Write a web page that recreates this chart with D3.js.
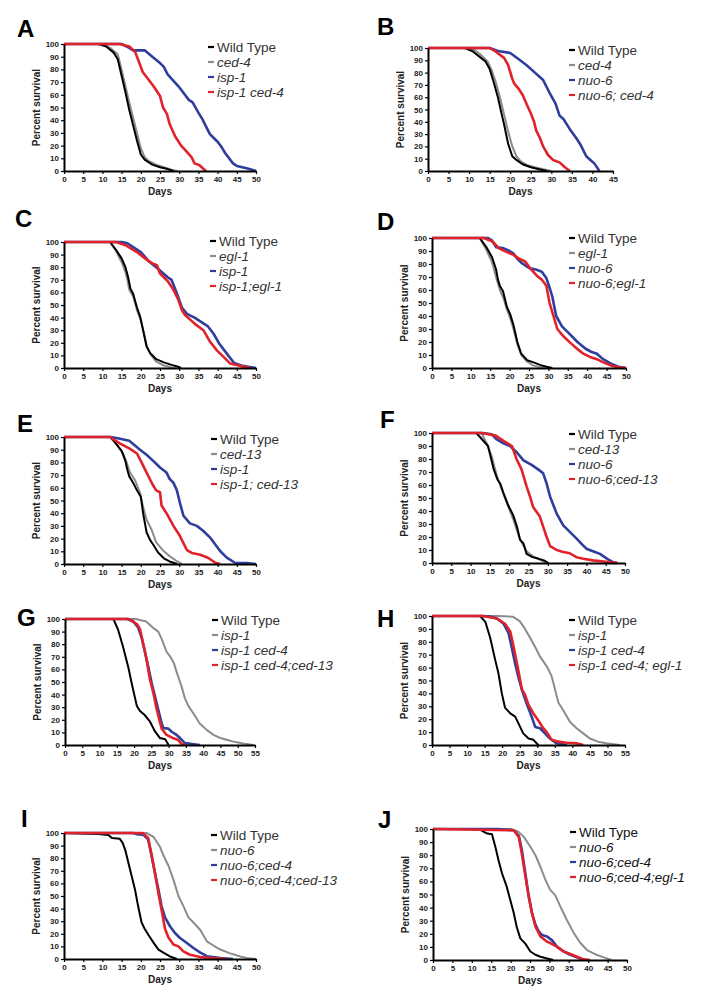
<!DOCTYPE html>
<html><head><meta charset="utf-8">
<script src="https://cdn.jsdelivr.net/npm/d3@7"></script>
<style>
html,body{margin:0;padding:0;background:#fff;}
svg{display:block;font-family:"Liberation Sans",Arial,sans-serif;}
</style></head>
<body>
<svg id="chart" width="701" height="1004"></svg>
<script>
// ---------------- DATA ----------------
const percentTicks = [0,10,20,30,40,50,60,70,80,90,100];
const dayTicks45 = [0,5,10,15,20,25,30,35,40,45];
const dayTicks50 = [0,5,10,15,20,25,30,35,40,45,50];
const dayTicks55 = [0,5,10,15,20,25,30,35,40,45,50,55];

const A_labels = ["Wild Type","ced-4","isp-1","isp-1 ced-4"];
const A_wt = [[0,100],[9,100],[11,98],[13,93],[14,88],[15,75],[16,62],[17,48],[18,36],[19,24],[20,13],[21,9],[22,7],[23,5],[25,3],[27,1.5],[28.5,0]];
const A_g  = [[0,100],[10,100],[12,97],[14,92],[15,80],[16,67],[17,54],[18,42],[19,30],[20,18],[21,11],[22,8],[24,5],[26,3],[28,1],[29.5,0]];
const A_b  = [[0,100],[15,100],[17,97],[18,95],[21,95],[23,90],[25,85],[26,82],[27,76],[28.5,71],[30,66],[31,62],[32.5,56],[33.5,54],[35,46],[36,41],[37,35],[38,29],[39,26],[40,23],[41,19],[42,14],[43,10],[44,6],[45,4],[47,2.5],[49,1],[50,0]];
const A_r  = [[0,100],[14.5,100],[17,98],[18.5,94],[19.5,86],[20.5,78],[22,72],[23.5,66],[25,59],[25.8,50],[26.8,45],[27.5,37],[29,27],[30.5,20],[32,15],[33.2,11],[34,6],[35.3,4.5],[36.2,2],[37,0]];

const B_labels = ["Wild Type","ced-4","nuo-6","nuo-6; ced-4"];
const B_wt = [[0,100],[9,100],[11,97],[12.5,93],[14,89],[15,83],[16,72],[17,60],[18,45],[18.5,38],[19.5,22],[20.5,12],[21.5,9],[23,5.5],[25,3],[27,1.5],[29,0]];
const B_g  = [[0,100],[9.5,100],[11.5,98],[13,94],[14.5,89],[15.5,82],[16.5,72],[17.5,60],[18.5,46],[19.5,32],[20.5,20],[21.5,12],[22.5,8],[24,5],[26,3],[28,1.5],[30,0]];
const B_b  = [[0,100],[15,100],[17,97.5],[20,96],[22,91],[24,86],[26,80],[28,74],[29.5,64],[31,55],[32,45],[33,42],[34.5,34],[36,27],[37,22],[38.5,12],[39.5,9],[40.5,6],[41.7,0]];
const B_r  = [[0,100],[15,100],[16.5,97],[18.5,92],[19.5,86],[20.5,75],[21,71],[22,67],[23,62],[24.3,52],[25,47],[25.8,40],[26.3,33],[27.2,27],[28,20],[29.2,13],[30.4,9],[32,7],[33.3,3],[34.5,0]];

const C_labels = ["Wild Type","egl-1","isp-1","isp-1;egl-1"];
const C_wt = [[0,100],[12,100],[13.5,94],[15,87],[16,80],[16.7,72],[17.3,63],[18,59],[19,48],[19.8,41],[20.6,30],[21.5,17],[22.4,12],[24,7],[26,4.5],[28,2.5],[29.5,1.2],[30.5,0]];
const C_g  = [[0,100],[12,100],[13.5,93],[15,84],[16,76],[16.5,70],[17,62],[18,57],[19,46],[20,38],[20.8,28],[21.5,18],[22.5,11],[24,5],[26,2],[28,0.5],[29,0]];
const C_b  = [[0,100],[15,100],[16.5,99],[18,96],[20,92],[22,85],[24,80],[25.5,76],[27,72],[28,70],[29.3,60],[30.7,48],[32,43],[34,40],[35.5,37],[36.5,35],[37.5,33],[39,27],[40.5,19],[42.5,11],[44.3,4],[46.5,1.7],[48,1],[50,0]];
const C_r  = [[0,100],[13.5,100],[16,97.5],[19,92],[21.5,86],[23,83],[24.2,81.5],[25,75],[27,69],[28.5,62],[29.8,54],[30.7,46],[31.5,42],[33,38],[34.5,34],[36.3,30],[38,21],[39.8,14],[41.5,9],[43.3,3.5],[46,1.5],[48.5,0]];

const D_labels = ["Wild Type","egl-1","nuo-6","nuo-6;egl-1"];
const D_wt = [[0,100],[12.3,100],[14,93],[15.5,85],[16.5,76],[17,68],[17.5,63],[18.3,59],[19.3,47],[20.2,41],[21,33],[22,20],[23,11],[24.5,6],[26,4.5],[28,2.2],[29.5,1],[31,0]];
const D_g  = [[0,100],[12.3,100],[14,91],[15.5,81],[16.5,70],[17.5,60],[18.5,53],[19.3,45],[20.3,37],[21,30],[22,18],[23,10],[24.5,5],[26,2],[28,0.5],[29,0]];
const D_b  = [[0,100],[14.5,100],[15.5,98],[16.5,93],[18.5,92],[19.7,90.5],[21,88],[22,84],[23,81],[25,77],[27,75.5],[28.3,74],[29.5,69],[30.5,60],[31,55],[32,40],[33.5,32],[35.5,26],[37.5,20],[39.5,15],[41,12.5],[42.5,11],[44,7],[46,3.5],[48,1],[50,0]];
const D_r  = [[0,100],[13.3,100],[15.5,97.5],[17.3,92],[19,89.5],[21,87],[22.5,84],[24,82],[25.5,76],[27,71],[28.3,68],[29.5,63],[30.3,50],[31.3,40],[32.3,30],[34,24],[35.6,19.5],[37.3,15],[39,11],[40.7,8.5],[42.5,6.8],[44,4.5],[46.5,1.5],[48.5,0.3],[50,0]];

const E_labels = ["Wild Type","ced-13","isp-1","isp-1; ced-13"];
const E_wt = [[0,100],[12,100],[13,97],[15,89],[16,81],[16.5,74],[17,69],[18,64],[19,58],[20,53],[20.6,40],[21.5,25],[22.4,19],[23.3,15],[24.5,9],[26,4.5],[27.5,2],[29.5,0]];
const E_g  = [[0,100],[12,100],[13.7,94],[15.4,87],[16.3,80],[17.2,72],[18.5,66],[19.8,56],[20.6,45],[21.5,35],[22.8,27],[24,17],[26,10],[27.6,6],[29.5,2],[30.7,0]];
const E_b  = [[0,100],[12,100],[14,99],[17,97],[19.8,90],[21.5,86],[23.3,81],[25,76],[26.7,72],[27.5,67],[28.5,64],[29.4,58],[30.2,48],[31.1,38],[32.8,32],[34.6,30],[36.3,26],[38,21],[39.5,15],[40.7,10],[42.4,5],[44.5,1],[47.5,0.7],[50,0]];
const E_r  = [[0,100],[12,100],[14.5,95],[17,91],[19,87],[20.2,80],[21.5,72],[23,63],[24,58],[25,56.5],[25.4,46],[26.7,40],[28.5,30],[30.2,22],[31,17],[32,11],[33.3,8.7],[35.5,7.3],[37.6,4.7],[39.4,1],[40.7,0]];

const F_labels = ["Wild Type","ced-13","nuo-6","nuo-6;ced-13"];
const F_wt = [[0,100],[11.5,100],[13,95],[14.5,90],[15.5,78],[16,72],[17,64],[17.7,61],[18.5,54],[19.8,44],[21,37],[22,28],[22.8,18],[23.7,15],[24.5,7],[26,4.5],[27.5,3.4],[29,2],[30.2,0]];
const F_g  = [[0,100],[12.8,100],[14.2,92],[15.5,82],[16.8,67],[18,57],[19.4,46],[21,34],[22.8,18],[24.5,9],[26.2,5],[28,2.5],[29.8,0]];
const F_b  = [[0,100],[13,100],[15.5,99],[16.8,95],[18.5,92],[20.2,90],[22,85],[23.7,79],[25.8,75.5],[27.5,72],[28.8,69],[29.7,61],[30.6,51],[32.3,38],[34,29],[35.7,24],[37.4,19],[39,14],[40,11],[41.7,9],[43.5,7],[45.5,3],[47,0.5],[48,0]];
const F_r  = [[0,100],[13,100],[16.5,98],[18.5,94],[20.7,90],[21.9,80],[23.2,72],[24.5,59],[25.4,51],[26.2,43],[27.9,36],[28.8,28],[29.7,20],[30.6,13],[32.3,10],[34,8.5],[35.7,7.5],[37.4,4.5],[39.2,3.3],[41.7,2],[45,1],[48,0]];

const G_labels = ["Wild Type","isp-1","isp-1 ced-4","isp-1 ced-4;ced-13"];
const G_wt = [[0,100],[14,100],[15.3,92],[16.8,78],[18.3,62],[19.3,49],[20.3,37],[20.8,31],[21.7,27],[23,24],[24.5,19],[26,11],[27.5,5.5],[29,4.5],[30,0]];
const G_g  = [[0,100],[20.5,100],[23.5,98],[25.5,93],[27,90],[28,84],[29.4,74],[30.5,70],[31.5,65],[32.3,58],[33.8,46],[34.7,37],[35.7,31],[37.2,25],[39,17],[41,12],[43,8],[45,5.5],[47,4],[49,2.5],[51.5,1.2],[54.5,0]];
const G_b  = [[0,100],[18,100],[19.8,98],[21.2,93],[22.2,85],[23.2,73],[24.1,62],[25.1,49],[26.1,38],[27,28],[28,17],[28.5,13.5],[29.9,13],[30.9,10.5],[32.3,8],[33.3,5.5],[34.7,1.5],[36.7,0.8],[39,0]];
const G_r  = [[0,100],[18.5,100],[20.8,96],[21.7,92],[22.5,82],[23,76],[23.6,68],[24.6,52],[25.6,41],[26.5,29],[27.5,18],[28,13],[29.4,8],[31.4,5.3],[32.8,4],[33.8,0.5],[35,0]];

const H_labels = ["Wild Type","isp-1","isp-1 ced-4","isp-1 ced-4; egl-1"];
const H_wt = [[0,100],[13.7,100],[15.2,95.5],[16.6,83],[18,66],[18.9,56],[19.9,40],[20.8,29],[22.3,24.5],[23.7,22],[24.6,17],[26,9],[27.5,5],[28.9,4],[30.3,0]];
const H_g  = [[0,100],[18.5,100],[23,99.5],[25,96],[26.5,90],[28,83],[29.4,76],[30.8,68.5],[32.7,61],[34,54],[34.6,48],[36,33],[37.4,27],[39.3,18],[41.2,13],[43.1,9],[45,5],[47.3,2.6],[49.7,1.3],[53.5,0]];
const H_b  = [[0,100],[14.5,100],[16.6,99.5],[18.5,98],[20.4,94],[21.8,87],[22.7,76],[23.7,63],[24.6,53],[25.6,43],[27,32],[28.4,22],[29.4,14],[30.8,13],[32.2,9],[33.6,5],[35.5,1.3],[38.4,0]];
const H_r  = [[0,100],[14.5,100],[18.5,98],[20.8,94],[22.3,88],[23.2,77],[24.6,58],[25.6,43],[26.5,39],[27.5,31],[28.9,24.5],[30.3,19],[31.7,13],[32.7,10],[34.1,4],[36,2.6],[38.4,1.8],[41.2,1.3],[43.1,0]];

const I_labels = ["Wild Type","nuo-6","nuo-6;ced-4","nuo-6;ced-4;ced-13"];
const I_wt = [[0,100],[9,99.3],[11.5,98.5],[12.5,96],[14.5,95.5],[15.3,92],[16,86],[16.8,76],[17.6,66],[18.5,55],[19.3,42],[20.2,29],[21,24],[22,19],[23.3,13],[24.6,7.5],[26,4.8],[27.6,2],[29.4,0]];
const I_g  = [[0,100],[21.5,100],[23.3,97],[25,89],[26,81.5],[27.2,74],[28.5,63],[29.8,50],[31.1,42],[32.4,33],[33.7,29],[35.5,23],[37.2,14],[39,10.5],[40.7,7.5],[43.3,4.5],[45.9,2],[47.6,0.8],[50,0]];
const I_b  = [[0,100],[18,100],[19,99],[20.6,98.7],[21.9,95],[22.8,82],[23.7,68],[24.6,55],[25.4,42],[26.3,33],[27.6,26],[28.9,20.6],[30.2,16.7],[32,12.7],[33.7,8.7],[35.5,5],[37.2,2.2],[40.7,0.8],[44,0]];
const I_r  = [[0,100],[20.5,100],[21.9,96],[22.8,83],[23.7,68],[24.6,52],[25.4,39],[26.3,24],[27.2,17],[28.5,11.5],[29.8,10],[31.1,6],[32.8,3.4],[35.5,1.6],[39,0.5],[42.4,0]];

const J_labels = ["Wild Type","nuo-6","nuo-6;ced-4","nuo-6;ced-4;egl-1"];
const J_wt = [[0,100],[11.8,100],[13,98],[14,96.5],[15.2,96],[16.1,86],[16.9,76],[17.8,66],[19,56],[19.9,46],[20.8,36],[21.6,25],[22.5,16.5],[23.8,12.5],[25.1,6.5],[26.4,4],[27.7,2.5],[29.4,1.2],[31,0]];
const J_g  = [[0,100],[20,100],[22,98],[23.4,94],[25.1,86.5],[26.4,80],[27.7,71],[29,61],[30.2,53.5],[31.5,49.5],[32.8,41],[34.5,30.5],[36.3,20.5],[38,13],[39.7,7.6],[42.3,3.8],[44,2],[46,0]];
const J_b  = [[0,100],[16.5,100],[20.8,99],[22.1,95],[22.9,84],[23.8,66],[24.7,48],[25.5,36],[26.4,27],[27.2,22],[28.1,19],[29.4,18],[30.7,15],[32,10],[33.7,6.5],[35.4,4],[37.1,2],[38.8,0]];
const J_r  = [[0,100],[20.8,99],[22.1,94],[22.9,81],[23.8,64],[24.7,48],[25.5,36],[26.4,25.5],[27.7,18],[29.4,14],[30.7,12.2],[32,10],[33.7,6.4],[35.4,4.6],[37.1,2.5],[38.8,0.5],[40.5,0]];

// ---------------- LAYOUT ----------------
const colors = ["#000000","#8c8c8c","#2e3e9c","#e2222b"];
const widths = [2, 2, 2.6, 2.6];
const legendStep = 15;
const panels = [
  {id:"A", labels:A_labels, series:[A_wt,A_g,A_b,A_r], ticks:dayTicks50, x0:64,  x1:256, yT:44,  yB:171, lx:17,  ly:37,  gx:217, gy:52},
  {id:"B", labels:B_labels, series:[B_wt,B_g,B_b,B_r], ticks:dayTicks45, x0:428, x1:613, yT:48,  yB:171, lx:377, ly:35,  gx:578, gy:55},
  {id:"C", labels:C_labels, series:[C_wt,C_g,C_b,C_r], ticks:dayTicks50, x0:64,  x1:256, yT:242, yB:368, lx:15,  ly:227, gx:219, gy:246},
  {id:"D", labels:D_labels, series:[D_wt,D_g,D_b,D_r], ticks:dayTicks50, x0:432, x1:626, yT:238, yB:368, lx:377, ly:230, gx:578, gy:243},
  {id:"E", labels:E_labels, series:[E_wt,E_g,E_b,E_r], ticks:dayTicks50, x0:64,  x1:256, yT:437, yB:564, lx:17,  ly:432, gx:220, gy:444},
  {id:"F", labels:F_labels, series:[F_wt,F_g,F_b,F_r], ticks:dayTicks50, x0:432, x1:625, yT:433, yB:563, lx:380, ly:428, gx:578, gy:439},
  {id:"G", labels:G_labels, series:[G_wt,G_g,G_b,G_r], ticks:dayTicks55, x0:65,  x1:255, yT:619, yB:745, lx:17,  ly:626, gx:221, gy:625},
  {id:"H", labels:H_labels, series:[H_wt,H_g,H_b,H_r], ticks:dayTicks55, x0:432, x1:625, yT:616, yB:745, lx:377, ly:627, gx:578, gy:625},
  {id:"I", labels:I_labels, series:[I_wt,I_g,I_b,I_r], ticks:dayTicks50, x0:64,  x1:256, yT:833, yB:959, lx:21,  ly:827, gx:220, gy:840},
  {id:"J", labels:J_labels, series:[J_wt,J_g,J_b,J_r], ticks:dayTicks50, x0:433, x1:627, yT:829, yB:960, lx:378, ly:828, gx:579, gy:837}
];

const svg = d3.select("#chart");

panels.forEach(p => {
  const g = svg.append("g");
  const xMax = p.ticks[p.ticks.length-1];
  const x = d3.scaleLinear().domain([0, xMax]).range([p.x0, p.x1]);
  const y = d3.scaleLinear().domain([0, 100]).range([p.yB, p.yT]);

  // panel letter
  g.append("text").attr("x", p.lx).attr("y", p.ly)
    .attr("font-size", 24).attr("font-weight", "bold").attr("fill", "#000").text(p.id);

  // curves: gray, black, blue, red
  const line = d3.line().x(d => x(d[0])).y(d => y(d[1]));
  [1,0,2,3].forEach(i => {
    g.append("path").datum(p.series[i]).attr("d", line)
      .attr("fill", "none").attr("stroke", colors[i])
      .attr("stroke-width", widths[i]).attr("stroke-linejoin", "round");
  });

  // axes
  const yAxis = d3.axisLeft(y).tickValues(percentTicks).tickSize(3).tickSizeOuter(0).tickPadding(2);
  const xAxis = d3.axisBottom(x).tickValues(p.ticks).tickSize(3).tickSizeOuter(0).tickPadding(2);
  const ya = g.append("g").attr("transform", `translate(${p.x0},0)`).call(yAxis);
  const xa = g.append("g").attr("transform", `translate(0,${p.yB})`).call(xAxis);
  [ya, xa].forEach(a => {
    a.select(".domain").attr("stroke", "#000").attr("stroke-width", 2);
    a.selectAll(".tick line").attr("stroke", "#000").attr("stroke-width", 1.2);
    a.selectAll(".tick text").attr("font-size", 8).attr("font-weight", "bold")
      .attr("fill", "#222").attr("font-family", "'Liberation Sans', Arial, sans-serif");
  });

  // axis titles
  g.append("text")
    .attr("transform", `translate(${p.x0 - 24},${(p.yT + p.yB)/2}) rotate(-90)`)
    .attr("text-anchor", "middle").attr("font-size", 10).attr("font-weight", "bold")
    .attr("fill", "#222").text("Percent survival");
  g.append("text")
    .attr("x", (p.x0 + p.x1)/2).attr("y", p.yB + 24)
    .attr("text-anchor", "middle").attr("font-size", 10).attr("font-weight", "bold")
    .attr("fill", "#222").text("Days");

  // legend
  p.labels.forEach((lab, i) => {
    const yy = p.gy + i * legendStep;
    g.append("line").attr("x1", p.gx - 9).attr("x2", p.gx - 3)
      .attr("y1", yy - 5).attr("y2", yy - 5)
      .attr("stroke", colors[i]).attr("stroke-width", 2.2);
    g.append("text").attr("x", p.gx).attr("y", yy)
      .attr("font-size", 13.5).attr("fill", p.id === "J" ? "#111" : "#333")
      .attr("font-style", i === 0 ? "normal" : "italic")
      .text(lab);
  });
});
</script>
</body></html>
